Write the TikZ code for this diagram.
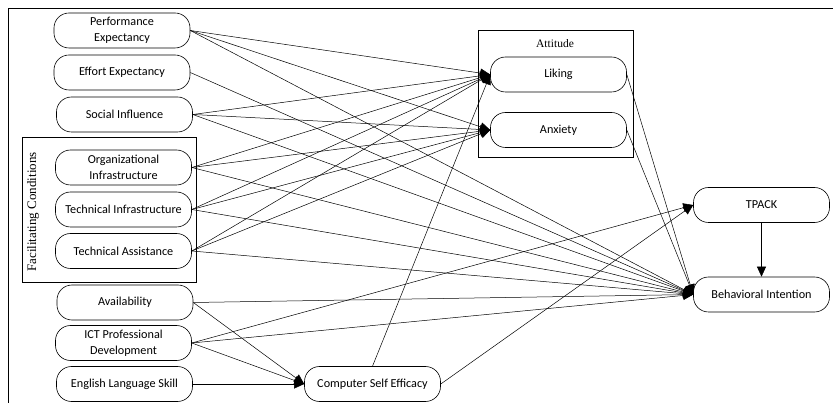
\documentclass[tikz,border=0pt]{standalone}
\usepackage{fontspec}
\setmainfont{Carlito}
\newfontfamily\serifface{Liberation Serif}
\usetikzlibrary{arrows.meta}
\begin{document}
\begin{tikzpicture}[x=1pt,y=-1pt,
  box/.style={draw, rounded corners=15pt, minimum width=136pt, minimum height=35pt,
    align=center, font=\fontsize{12.2}{15.5}\selectfont, inner sep=0.5pt, line width=0.6pt},
  arr/.style={-{Triangle[length=10pt,width=9pt]}, line width=0.5pt},
  frame/.style={line width=0.6pt}]
\useasboundingbox (0,0) rectangle (833,403);
% outer frame fragments
\draw[frame] (8,403) -- (8,8) -- (833,8);
% facilitating conditions group
\draw[frame] (22,137) rectangle (196,282);
\node[rotate=90, font=\serifface\fontsize{13}{15}\selectfont] (fclab) at (33,212) {Facilitating Conditions};
% attitude group
\draw[frame] (478,30) rectangle (633,157);
\node[font=\serifface\fontsize{11.5}{13}\selectfont] (attlab) at (555,44) {Attitude};
% nodes
\node[box] (pe)  at (122,30.5)  {Performance\\Expectancy};
\node[box] (ee)  at (122,72.5)  {Effort Expectancy};
\node[box] (si)  at (124.5,114.5) {Social Influence};
\node[box] (oi)  at (123.5,167.5) {Organizational\\Infrastructure};
\node[box] (ti)  at (123.5,209.5) {Technical Infrastructure};
\node[box] (ta)  at (123.5,251)   {Technical Assistance};
\node[box] (av)  at (125,302.5)   {Availability};
\node[box] (ict) at (123.5,343)   {ICT Professional\\Development};
\node[box] (els) at (124.5,384)   {English Language Skill};
\node[box] (cse) at (372.5,384)   {Computer Self Efficacy};
\node[box] (lik) at (558.5,74.5)  {Liking};
\node[box] (anx) at (558.5,130)   {Anxiety};
\node[box] (tp)  at (761.5,205)   {TPACK};
\node[box] (bi)  at (761.5,294.5) {Behavioral Intention};
% connectors to attitude
\foreach \s in {pe,si,oi,ti,ta}{
  \draw[arr] (\s.east) -- (lik.west);
  \draw[arr] (\s.east) -- (anx.west);
}
\draw[arr] (cse.north) -- (lik.west);
% connectors to behavioral intention
\foreach \s in {pe,ee,si,oi,ti,ta,av,ict}{
  \draw[arr] (\s.east) -- (bi.west);
}
\draw[arr] (lik.east) -- (bi.west);
\draw[arr] (anx.east) -- (bi.west);
\draw[arr] (tp.south) -- (bi.north);
% connectors to TPACK
\draw[arr] (ict.east) -- (tp.west);
\draw[arr] (cse.east) -- (tp.west);
% connectors to computer self efficacy
\draw[arr] (av.east) -- (cse.west);
\draw[arr] (ict.east) -- (cse.west);
\draw[arr] (els.east) -- (cse.west);
\end{tikzpicture}
\end{document}
